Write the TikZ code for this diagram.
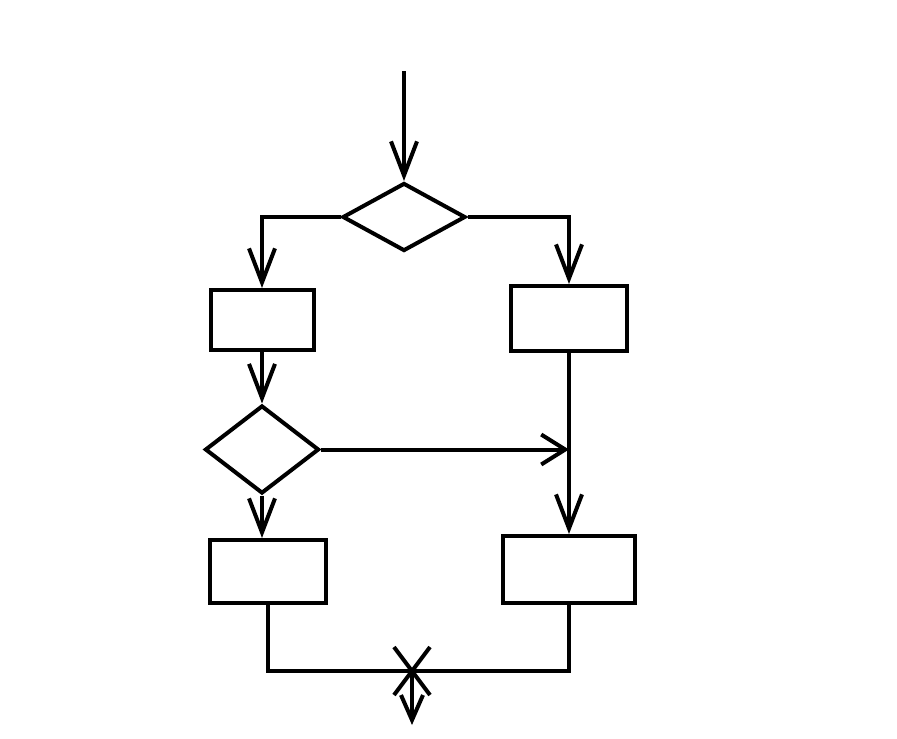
\documentclass[tikz,border=0pt]{standalone}
\usepackage{tikz}
\usetikzlibrary{shapes.geometric,shapes.misc,arrows.meta,positioning}

\begin{document}
\begin{tikzpicture}[
  x=1pt,y=-1pt,
  every path/.style={line width=4pt},
  box/.style={rectangle,draw,line width=4pt,inner sep=0pt},
  cond/.style={diamond,draw,line width=4pt,inner sep=0pt},
  arr/.style={-{Straight Barb[length=34pt,width=26pt]},line width=4pt},
  joinmark/.style={cross out,draw,line width=4pt,inner sep=0pt,minimum width=32pt,minimum height=44pt}
]
\useasboundingbox (0,0) rectangle (897,739);
% nodes
\node[cond,minimum width=123pt,minimum height=68pt] (d1) at (404,217) {};
\node[box,minimum width=103pt,minimum height=60pt] (b1) at (262,320) {};
\node[box,minimum width=116pt,minimum height=65pt] (b2) at (569,318.5) {};
\node[cond,minimum width=114pt,minimum height=88pt] (d2) at (262,449.5) {};
\node[box,minimum width=116pt,minimum height=63pt] (b3) at (268,571.5) {};
\node[box,minimum width=132pt,minimum height=67pt] (b4) at (569,569.5) {};
\coordinate[above=110pt of d1.north] (in);
\coordinate (meet) at (b2.south |- d2.east);
\coordinate (join) at (412,671);
\coordinate[below=54pt of join] (out);
\node[joinmark] (x) at (join) {};
% connectors
\draw[arr] (in) -- (d1.north);
\draw[arr] (d1.west) -| (b1.north);
\draw[arr] (d1.east) -| (b2.north);
\draw[arr] (b1.south) -- (d2.north);
\draw[arr] (d2.south) -- (d2.south |- b3.north);
\draw[-{Straight Barb[length=24pt,width=30pt]}] (d2.east) -- (meet);
\draw[arr] (b2.south) -- (b4.north);
\draw (b3.south) |- (join);
\draw (b4.south) |- (join);
\draw[-{Straight Barb[length=25pt,width=22pt]}] (join) -- (out);
\end{tikzpicture}
\end{document}
